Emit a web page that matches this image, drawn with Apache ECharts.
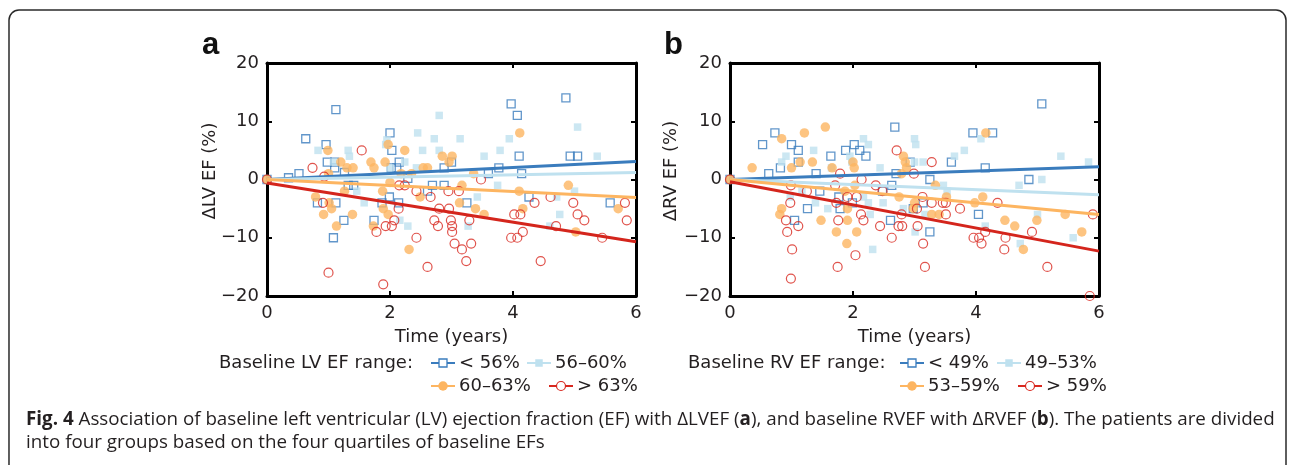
<!DOCTYPE html>
<html>
<head>
<meta charset="utf-8">
<style>
html,body{margin:0;padding:0;background:#fff;}
#chart{width:1292px;height:465px;}
</style>
<script src="https://cdn.jsdelivr.net/npm/echarts@6/dist/echarts.min.js"></script>
</head>
<body>
<div id="chart"></div>
<script>
// ---------- DATA ----------
const xTicks = [0, 2, 4, 6];
const yTicks = [-20, -10, 0, 10, 20];

// Panel a: change in LV EF (%) vs time (years), by baseline LV EF group
const lvLegendLabels = ['< 56%', '56\u201360%', '60\u201363%', '> 63%'];
const lvLt56 = [[0,0],[0.35,0.3],[0.52,1],[0.63,7],[0.96,6],[0.98,3],[1.1,3],[1.1,2],[1.12,12],[1.26,1.2],[2.0,8],[2.03,5],[2.02,2],[2.11,2],[2.15,3],[2.29,0.2],[2.88,2],[3.0,3],[3.6,1],[3.77,2],[3.97,13],[4.07,11],[4.1,4],[4.14,1],[4.86,14],[4.93,4],[5.05,4],
  [0.82,-4],[1.08,-10],[1.12,-4],[1.25,-7],[1.32,-1],[1.41,-1],[1.74,-7],[1.87,-4],[1.99,-3],[2.14,-4],[2.61,-2],[2.69,-1],[2.88,-1],[3.25,-4],[4.26,-3],[5.58,-4]];
const lv56to60 = [[0,0],[0.83,5],[1.08,3],[1.32,5],[1.34,4],[1.93,6],[1.95,6.8],[2.0,2],[2.24,3],[2.43,2],[2.45,8],[2.53,5],[2.72,7],[2.8,11],[2.8,5],[3.14,7],[3.53,4],[3.79,5],[3.94,7],[5.05,9],[5.37,4],
  [1.46,-2],[1.58,-4],[2.16,-7],[2.29,-8],[3.27,-8],[3.42,-3],[3.75,-1],[4.6,-8],[4.71,-3],[4.76,-6],[5.0,-2]];
const lv60to63 = [[0,0],[0.99,5],[1.0,1],[1.2,3],[1.3,2],[1.4,2],[1.69,3],[1.74,2],[1.92,3],[1.97,6],[2.18,1],[2.24,5],[2.35,1],[2.54,2],[2.61,2],[2.85,4],[2.96,3],[3.01,4],[3.36,1],[4.11,8],
  [0.79,-3],[0.92,-6],[1.01,-4],[1.05,-5],[1.13,-8],[1.26,-2],[1.39,-6],[1.73,-8],[1.88,-2],[1.89,-5],[1.97,-6],[2.0,-0.5],[2.31,-12],[2.49,-3],[3.13,-4],[3.17,-1],[3.39,-5],[3.53,-6],[4.1,-2],[4.16,-5],[4.9,-1],[5.02,-9],[5.71,-5]];
const lvGt63 = [[0,0],[0.74,2],[0.93,0.5],[1.54,5],[3.48,0],
  [0.91,-4],[1.0,-16],[1.78,-9],[1.89,-18],[1.93,-8],[2.03,-8],[2.07,-7],[2.14,-5],[2.15,-1],[2.24,-1],[2.43,-2],[2.43,-10],[2.61,-15],[2.66,-3],[2.72,-7],[2.78,-8],[2.8,-5],[2.95,-2],[2.96,-5],[2.99,-7],[3.01,-8],[3.01,-9],[3.05,-11],[3.12,-2],[3.17,-12],[3.24,-14],[3.29,-7],[3.32,-11],[3.97,-10],[4.02,-6],[4.07,-10],[4.12,-6],[4.16,-9],[4.35,-4],[4.45,-14],[4.61,-3],[4.7,-8],[4.98,-4],[5.05,-6],[5.16,-7],[5.45,-10],[5.82,-4],[5.85,-7]];
// regression lines: value at t=0 and at t=6 for each group
const lvTrendStart = [0, 0, 0, -0.6];
const lvTrendEnd   = [3.1, 1.2, -3.1, -10.7];

// Panel b: change in RV EF (%) vs time (years), by baseline RV EF group
const rvLegendLabels = ['< 49%', '49\u201353%', '53\u201359%', '> 59%'];
const rvLt49 = [[0,0],[0.53,6],[0.63,1],[0.73,8],[0.82,2],[1.0,6],[1.11,5],[1.11,3],[1.4,1],[1.64,4],[1.88,5],[2.02,6],[2.11,5],[2.21,4],[2.68,9],[2.7,1],[2.93,3],[3.25,0],[3.6,3],[3.95,8],[4.15,2],[4.27,8],[4.86,0],[5.07,13],
  [1.05,-7],[1.26,-5],[1.46,-2],[1.77,-3],[1.79,-5],[1.99,-4],[2.48,-2],[2.61,-7],[2.63,-1],[2.98,-5],[3.14,-4],[3.25,-9],[4.04,-6]];
const rv49to53 = [[0,0],[0.84,3],[0.91,4],[1.36,5],[1.65,2],[1.95,4],[1.98,3],[2.17,7],[2.25,6],[2.44,2],[3.0,7],[3.02,6],[3.0,3],[3.14,3],[3.65,4],[3.81,5],[4.08,7],[5.07,0],[5.38,4],[5.83,3],
  [0.98,-3],[1.17,-2],[1.39,-4],[1.59,-5],[2.17,-3],[2.25,-4],[2.28,-6],[2.32,-12],[2.49,-4],[2.82,-5],[3.01,-9],[3.17,-6],[3.47,-1],[3.53,-2],[4.15,-8],[4.7,-1],[4.72,-11],[5.0,-6],[5.58,-10]];
const rv53to59 = [[0,0],[0.36,2],[0.84,7],[1.0,2],[1.14,3],[1.21,8],[1.34,3],[1.55,9],[1.66,2],[2.0,3],[2.02,2],[2.79,1],[2.82,4],[2.85,3],[2.87,2],[4.16,8],
  [0.81,-6],[0.84,-5],[1.48,-7],[1.73,-9],[1.87,-2],[1.9,-11],[1.91,-7],[1.91,-5],[2.03,-1],[2.06,-9],[2.75,-3],[2.98,-5],[3.0,-4],[3.28,-6],[3.34,-1],[3.4,-6],[3.52,-3],[3.98,-4],[4.11,-3],[4.47,-7],[4.63,-8],[4.77,-12],[4.99,-7],[5.45,-6],[5.72,-9]];
const rvGt59 = [[0,0],[1.79,1],[2.14,0],[2.71,5],[2.99,1],[3.28,3],
  [0.91,-7],[0.93,-9],[0.98,-4],[0.99,-1],[0.99,-17],[1.01,-12],[1.11,-8],[1.25,-2],[1.71,-1],[1.73,-4],[1.75,-15],[1.76,-7],[1.91,-3],[2.04,-13],[2.06,-3],[2.13,-6],[2.17,-7],[2.37,-1],[2.44,-8],[2.48,-2],[2.63,-10],[2.74,-8],[2.79,-6],[2.8,-8],[3.04,-5],[3.05,-8],[3.13,-3],[3.14,-11],[3.17,-15],[3.28,-4],[3.46,-4],[3.51,-4],[3.51,-6],[3.74,-5],[3.96,-10],[4.05,-10],[4.09,-11],[4.15,-9],[4.35,-4],[4.46,-12],[4.48,-10],[4.91,-9],[5.16,-15],[5.85,-20],[5.9,-6]];
const rvTrendStart = [0, 0, 0, -0.4];
const rvTrendEnd   = [2.2, -2.6, -6.0, -12.3];

const xAxisTitle = 'Time (years)';
const yAxisTitles = ['\u0394LV EF (%)', '\u0394RV EF (%)'];
const legendTitles = ['Baseline LV EF range:', 'Baseline RV EF range:'];
const panelLetters = ['a', 'b'];

// ---------- STYLE ----------
const COLORS = ['#3a7cbd', '#bfe1ef', '#fdb561', '#d8281f'];
const LINE_COLORS = ['#3a7cbd', '#bfe1ef', '#fdb561', '#d4251c'];
const FONT = 'DejaVu Sans';
const TXT = '#231f20';
const GRID_LEFT = [267, 730];
const GRID_TOP = 63, GRID_W = 369, GRID_H = 233;

function markerStyle(i) {
  if (i === 0) return { symbol: 'rect', symbolSize: 8, itemStyle: { color: 'rgba(0,0,0,0)', borderColor: COLORS[0], borderWidth: 1.3 } };
  if (i === 1) return { symbol: 'rect', symbolSize: 7.5, itemStyle: { color: COLORS[1] } };
  if (i === 2) return { symbol: 'circle', symbolSize: 9.5, itemStyle: { color: COLORS[2] } };
  return { symbol: 'circle', symbolSize: 9, itemStyle: { color: 'rgba(0,0,0,0)', borderColor: COLORS[3], borderWidth: 1.2 } };
}

const panels = [
  { groups: [lvLt56, lv56to60, lv60to63, lvGt63], start: lvTrendStart, end: lvTrendEnd, labels: lvLegendLabels },
  { groups: [rvLt49, rv49to53, rv53to59, rvGt59], start: rvTrendStart, end: rvTrendEnd, labels: rvLegendLabels }
];

const minus = v => String(v).replace('-', '\u2212');
const grids = [], xAxes = [], yAxes = [], series = [], graphics = [];

panels.forEach((p, k) => {
  grids.push({ left: GRID_LEFT[k], top: GRID_TOP, width: GRID_W, height: GRID_H, containLabel: false });
  const axisLine = { show: true, onZero: false, lineStyle: { color: '#000', width: 3 } };
  const tick = { show: true, inside: true, length: 5, lineStyle: { color: '#000', width: 2 } };
  const lbl = { fontFamily: FONT, fontSize: 18, color: TXT };
  xAxes.push({ gridIndex: k, type: 'value', min: xTicks[0], max: xTicks[xTicks.length - 1], interval: xTicks[1] - xTicks[0], position: 'bottom',
    axisLine, axisTick: tick, splitLine: { show: false }, axisLabel: Object.assign({ margin: 8 }, lbl),
    name: xAxisTitle, nameLocation: 'middle', nameGap: 32, nameTextStyle: { fontFamily: FONT, fontSize: 18, color: TXT } });
  xAxes.push({ gridIndex: k, type: 'value', min: xTicks[0], max: xTicks[xTicks.length - 1], interval: xTicks[1] - xTicks[0], position: 'top',
    axisLine, axisTick: tick, splitLine: { show: false }, axisLabel: { show: false } });
  yAxes.push({ gridIndex: k, type: 'value', min: yTicks[0], max: yTicks[yTicks.length - 1], interval: yTicks[1] - yTicks[0], position: 'left',
    axisLine, axisTick: tick, splitLine: { show: false }, axisLabel: Object.assign({ margin: 8, formatter: minus }, lbl) });
  yAxes.push({ gridIndex: k, type: 'value', min: yTicks[0], max: yTicks[yTicks.length - 1], interval: yTicks[1] - yTicks[0], position: 'right',
    axisLine, axisTick: tick, splitLine: { show: false }, axisLabel: { show: false } });

  p.groups.forEach((data, i) => {
    series.push(Object.assign({ type: 'scatter', name: p.labels[i], xAxisIndex: 2 * k, yAxisIndex: 2 * k, data, silent: true, z: 2 + i }, markerStyle(i)));
  });
  p.groups.forEach((data, i) => {
    series.push({ type: 'line', xAxisIndex: 2 * k, yAxisIndex: 2 * k, data: [[xTicks[0], p.start[i]], [xTicks[xTicks.length - 1], p.end[i]]],
      showSymbol: false, silent: true, z: 10, lineStyle: { color: LINE_COLORS[i], width: 3 } });
  });

  // panel letter
  graphics.push({ type: 'text', left: [202, 664][k], top: 30, style: { text: panelLetters[k], font: 'bold 31px "Liberation Sans", Arial', fill: '#111' } });
  // y-axis title
  graphics.push({ type: 'text', x: [210, 671][k], y: 171, rotation: Math.PI / 2,
    style: { text: yAxisTitles[k], fontFamily: FONT, fontSize: 18, fill: TXT, align: 'center', verticalAlign: 'middle' } });
  // legend
  const lx = [219, 688][k];
  graphics.push({ type: 'text', x: lx, y: 363, style: { text: legendTitles[k], fontFamily: FONT, fontSize: 18, fill: TXT, verticalAlign: 'middle' } });
  const itemPos = k === 0 ? [[431, 363], [527, 363], [431, 386], [549, 386]] : [[900, 363], [997, 363], [900, 386], [1018, 386]];
  itemPos.forEach((pos, i) => {
    const [x, y] = pos;
    graphics.push({ type: 'line', shape: { x1: x, y1: y, x2: x + 24, y2: y }, style: { stroke: COLORS[i], lineWidth: 2 } });
    const ms = markerStyle(i);
    if (ms.symbol === 'rect') {
      const s = ms.symbolSize;
      graphics.push({ type: 'rect', shape: { x: x + 12 - s / 2, y: y - s / 2, width: s, height: s },
        style: { fill: i === 0 ? '#fff' : COLORS[i], stroke: i === 0 ? COLORS[i] : null, lineWidth: 1.3 } });
    } else {
      graphics.push({ type: 'circle', shape: { cx: x + 12, cy: y, r: ms.symbolSize / 2 },
        style: { fill: i === 3 ? '#fff' : COLORS[i], stroke: i === 3 ? COLORS[i] : null, lineWidth: 1.2 } });
    }
    graphics.push({ type: 'text', x: x + 28, y: y, style: { text: p.labels[i], fontFamily: FONT, fontSize: 18, fill: TXT, verticalAlign: 'middle' } });
  });
});

// frame
graphics.unshift({ type: 'rect', shape: { x: 9, y: 10, width: 1277, height: 520, r: 10 }, style: { fill: 'none', stroke: '#2a2a2a', lineWidth: 1.5 }, z: 0 });
// caption
const CAP_SIZE = 18.8;
graphics.push({ type: 'text', x: 26, y: 420, style: {
  text: '{b|Fig. 4} Association of baseline left ventricular (LV) ejection fraction (EF) with \u0394LVEF ({b|a}), and baseline RVEF with \u0394RVEF ({b|b}). The patients are divided',
  fontFamily: 'Open Sans', fontSize: CAP_SIZE, fill: TXT, verticalAlign: 'middle',
  rich: { b: { fontFamily: 'Open Sans', fontSize: CAP_SIZE, fontWeight: 'bold', fill: TXT } } } });
graphics.push({ type: 'text', x: 26, y: 443, style: { text: 'into four groups based on the four quartiles of baseline EFs',
  fontFamily: 'Open Sans', fontSize: CAP_SIZE, fill: TXT, verticalAlign: 'middle' } });

const chart = echarts.init(document.getElementById('chart'), null, { renderer: 'canvas' });
chart.setOption({
  animation: false,
  backgroundColor: '#fff',
  grid: grids,
  xAxis: xAxes,
  yAxis: yAxes,
  series,
  graphic: { elements: graphics }
});
</script>
</body>
</html>
